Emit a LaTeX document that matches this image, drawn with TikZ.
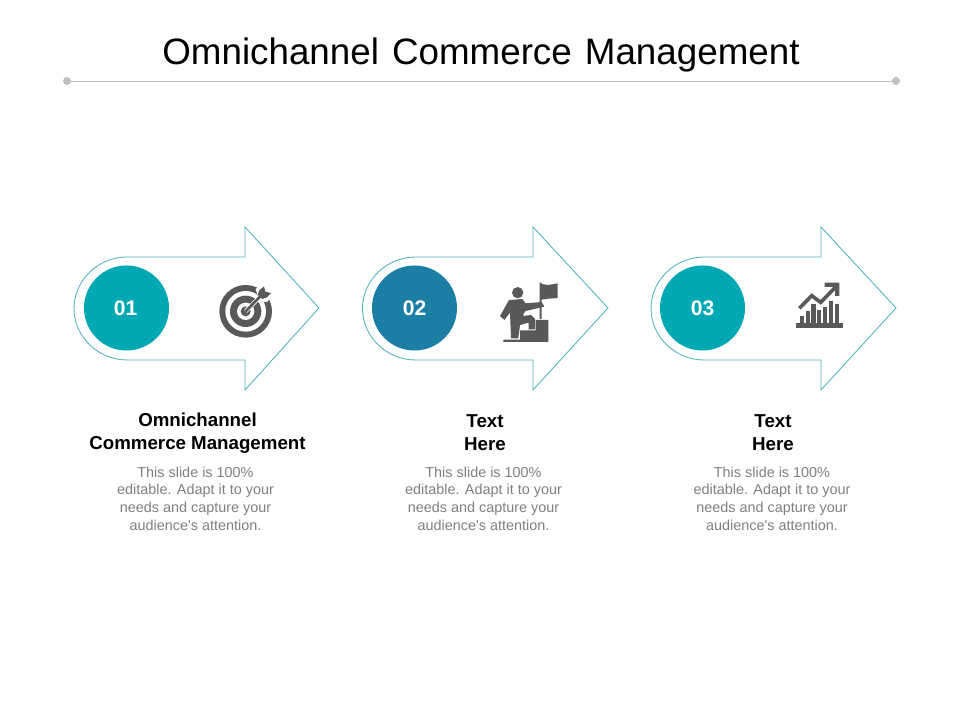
\documentclass[tikz,border=0pt]{standalone}
\usepackage{fontspec}
\setmainfont{Liberation Sans}
\definecolor{tealone}{HTML}{00A8B3}
\definecolor{bluetwo}{HTML}{1B7FA5}
\definecolor{arrowedge}{HTML}{4DB1BE}
\definecolor{icongrey}{HTML}{595959}
\definecolor{bodygrey}{HTML}{7F7F7F}
\definecolor{rulegrey}{HTML}{BFBFBF}
\tikzset{
  numcircle/.style={circle,minimum size=2.125cm,inner sep=0pt,text=white,font=\fontsize{15}{15}\selectfont\bfseries},
  arrowline/.style={draw=arrowedge,line width=0.6pt,line join=miter},
  headtext/.style={align=center,font=\fontsize{13.3}{16.4}\selectfont\bfseries},
  bodytext/.style={align=center,text=bodygrey,font=\fontsize{10.25}{12.6}\selectfont},
  ruledot/.style={circle,fill=rulegrey,minimum size=0.2cm,inner sep=0pt},
  icon/.style={fill=icongrey,draw=none}
}
\begin{document}
\begin{tikzpicture}[x=0.025cm,y=-0.025cm]
\useasboundingbox (0,0) rectangle (960,720);
% title and rule
\node (title) at (481,55) {\fontsize{26.15}{26.15}\selectfont\spaceskip=9.3pt Omnichannel Commerce Management};
\node[ruledot] (ruleleft) at (67,81) {};
\node[ruledot] (ruleright) at (896,81) {};
\draw[rulegrey,line width=0.5pt] (ruleleft) -- (ruleright);
% arrow outlines
\draw[arrowline] (127,257) -- (245,257) -- (245,227) -- (319,308) -- (245,390) -- (245,360) -- (127,360) .. controls (98.5,360) and (74,337) .. (74,308.5) .. controls (74,280) and (98.5,257) .. (127,257);
\draw[arrowline] (415.5,257) -- (533,257) -- (533,227) -- (608,308) -- (533,390) -- (533,360) -- (415.5,360) .. controls (387,360) and (362.5,337) .. (362.5,308.5) .. controls (362.5,280) and (387,257) .. (415.5,257);
\draw[arrowline] (704,257) -- (821,257) -- (821,227) -- (896,308) -- (821,390) -- (821,360) -- (704,360) .. controls (675.5,360) and (651,337) .. (651,308.5) .. controls (651,280) and (675.5,257) .. (704,257);
% number circles
\node[numcircle,fill=tealone] (numone) at (126.5,308) {\hspace*{-1.4pt}01};
\node[numcircle,fill=bluetwo] (numtwo) at (414.5,308) {02};
\node[numcircle,fill=tealone] (numthree) at (702.5,308) {03};
% target icon
\begin{scope}[shift={(205,275)},scale=1/3]
\fill[icongrey] (122,109) circle[radius=79];
\fill[white] (122,109) circle[radius=61];
\fill[icongrey] (122,109) circle[radius=47];
\fill[white] (122,109) circle[radius=26];
\fill[icongrey] (122,109) circle[radius=15];
\draw[white,line width=3pt] (122,109) -- (172,58);
\fill[white] (152,42) -- (178,26) -- (205,55) -- (188,80) -- (165,82) -- cycle;
\draw[icongrey,line width=1.9pt] (122,109) -- (168,62);
\fill[icon] (158,60) -- (163,46) -- (177,34) -- (181,50) -- (198,54) -- (186,67) -- (172,72) -- cycle;
\end{scope}
% climbing person icon
\begin{scope}[shift={(495,280)},scale=1/3]
\fill[icongrey] (68,38) circle[radius=17];
\fill[icon] (42,60) -- (82,57) -- (92,70) -- (140,66) -- (148,80) -- (92,93) -- (86,100) -- (85,108) -- (108,105) -- (120,117) -- (120,148) -- (101,148) -- (101,128) -- (75,135) -- (70,175) -- (48,175) -- (45,98) -- (28,120) -- (15,108) -- cycle;
\fill[icon] (75,151) -- (122,151) -- (122,120) -- (160,120) -- (160,186) -- (25,186) -- (25,179) -- (75,179) -- cycle;
\fill[icon] (134,8) -- (140,8) -- (140,12) -- (160,15) -- (188,10) -- (188,54) -- (160,56) -- (140,59) -- (140,117) -- (134,117) -- cycle;
\end{scope}
% chart icon
\begin{scope}[shift={(780,270)},scale=1/3]
\fill[icon] (47,160) rectangle (190,173);
\fill[icon] (60,138) rectangle (72,160);
\fill[icon] (77,122) rectangle (90,160);
\fill[icon] (94,103) rectangle (107,160);
\fill[icon] (112,120) rectangle (124,160);
\fill[icon] (129,110) rectangle (142,160);
\fill[icon] (147,92) rectangle (159,160);
\fill[icon] (165,102) rectangle (177,160);
\draw[icongrey,line width=2.6pt,line join=miter] (58,115) -- (95,77) -- (122,97) -- (168,50);
\fill[icon] (134,38) -- (178,38) -- (178,78) -- (165,78) -- (165,51) -- (134,51) -- cycle;
\end{scope}
% headings
\node[headtext] (headone) at (197.5,433) {Omnichannel\\Commerce Management};
\node[headtext] (headtwo) at (485,433) {Text\\Here};
\node[headtext] (headthree) at (773,433) {Text\\Here};
% body text
\node[bodytext] (bodyone) at (195.5,498.5) {This slide is 100\%\\editable. Adapt it to your\\needs and capture your\\audience\textquotesingle s attention.};
\node[bodytext] (bodytwo) at (483.5,498.5) {This slide is 100\%\\editable. Adapt it to your\\needs and capture your\\audience\textquotesingle s attention.};
\node[bodytext] (bodythree) at (772,498.5) {This slide is 100\%\\editable. Adapt it to your\\needs and capture your\\audience\textquotesingle s attention.};
\end{tikzpicture}
\end{document}
